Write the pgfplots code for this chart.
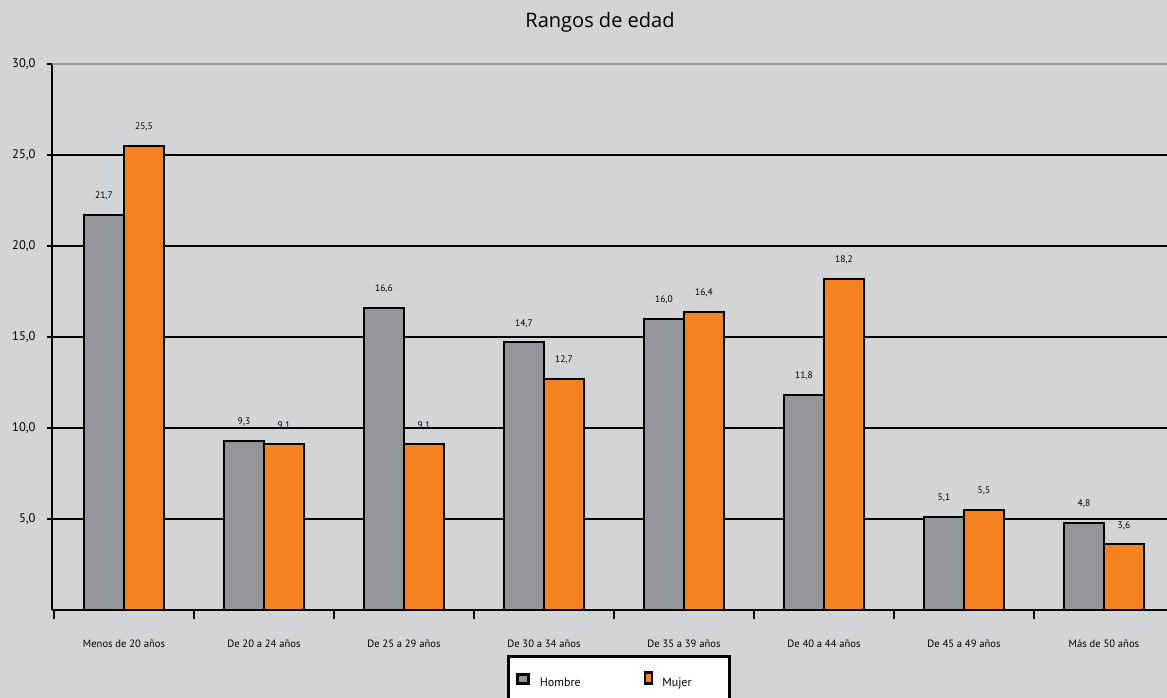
\documentclass[border=0pt]{standalone}
\usepackage{pgfplots}
\pgfplotsset{compat=1.18}
\usepackage{fontspec}
\setmainfont{Open Sans}
\newfontfamily\tickfont{PT Sans}
\definecolor{bg}{HTML}{D3D4D6}
\definecolor{hgrey}{HTML}{939598}
\definecolor{morange}{HTML}{F48221}
\begin{document}
\begin{tikzpicture}
\fill[bg] (0,0) rectangle (1167pt,-698pt);
\begin{axis}[
  at={(52pt,-610pt)}, anchor=south west,
  scale only axis, width=1115pt, height=546pt,
  xmin=-0.514, xmax=7.45, ymin=0, ymax=30,
  ybar=0pt, bar width=40pt,
  axis x line*=bottom, axis y line*=left,
  axis line style={black, line width=2pt},
  xtick={0,...,7},
  xticklabels={Menos de 20 años, De 20 a 24 años, De 25 a 29 años, De 30 a 34 años, De 35 a 39 años, De 40 a 44 años, De 45 a 49 años, Más de 50 años},
  xticklabel style={font=\tickfont\fontsize{10.6}{12}\selectfont, yshift=-21pt},
  minor xtick={-0.5,0.5,...,6.5},
  ytick={5,10,...,25},
  extra y ticks={30},
  extra y tick style={grid style={draw=gray!80, line width=1.5pt}},
  yticklabel style={font=\tickfont\fontsize{12.5}{14}\selectfont, xshift=-8pt},
  /pgf/number format/.cd, fixed, fixed zerofill, precision=1, use comma, assume math mode=true,
  /pgfplots/.cd,
  tick align=outside,
  major tick length=5pt,
  x tick style={draw=none},
  minor x tick style={draw=black, line width=2pt},
  minor tick length=9pt,
  y tick style={black, line width=2pt},
  ymajorgrids,
  grid style={black, line width=1.5pt},
  nodes near coords,
  every node near coord/.append style={font=\tickfont\fontsize{9.5}{11}\selectfont, anchor=center, yshift=19pt, /pgf/number format/.cd, fixed, fixed zerofill, precision=1, use comma, assume math mode=true},
  title={Rangos de edad},
  title style={at={(0.4915,1.066)}, anchor=center, font=\fontsize{20}{24}\selectfont},
  legend style={at={(0.408,-0.0824)}, anchor=north west, draw=black, line width=3pt, fill=white,
    font=\tickfont\fontsize{12}{14}\selectfont, inner xsep=8pt, inner ysep=15pt,
    /tikz/every even column/.append style={column sep=61pt}},
  legend columns=2,
  legend cell align=left,
]
\addplot[fill=hgrey, draw=black, line width=2pt,
  legend image code/.code={\draw[fill=hgrey, draw=black, line width=2.5pt] (0pt,-1pt) rectangle (11pt,8pt);}]
  coordinates {(0,21.7) (1,9.3) (2,16.6) (3,14.7) (4,16.0) (5,11.8) (6,5.1) (7,4.8)};
\addplot[fill=morange, draw=black, line width=2pt,
  legend image code/.code={\draw[fill=morange, draw=black, line width=2.5pt] (0pt,-1pt) rectangle (7pt,10pt);}]
  coordinates {(0,25.5) (1,9.1) (2,9.1) (3,12.7) (4,16.4) (5,18.2) (6,5.5) (7,3.6)};
\legend{\hspace*{8pt}Hombre, \hspace*{7pt}Mujer\hspace*{28pt}}
\end{axis}
\pgfresetboundingbox
\path (0,0) rectangle (1167pt,-698pt);
\end{tikzpicture}
\end{document}
